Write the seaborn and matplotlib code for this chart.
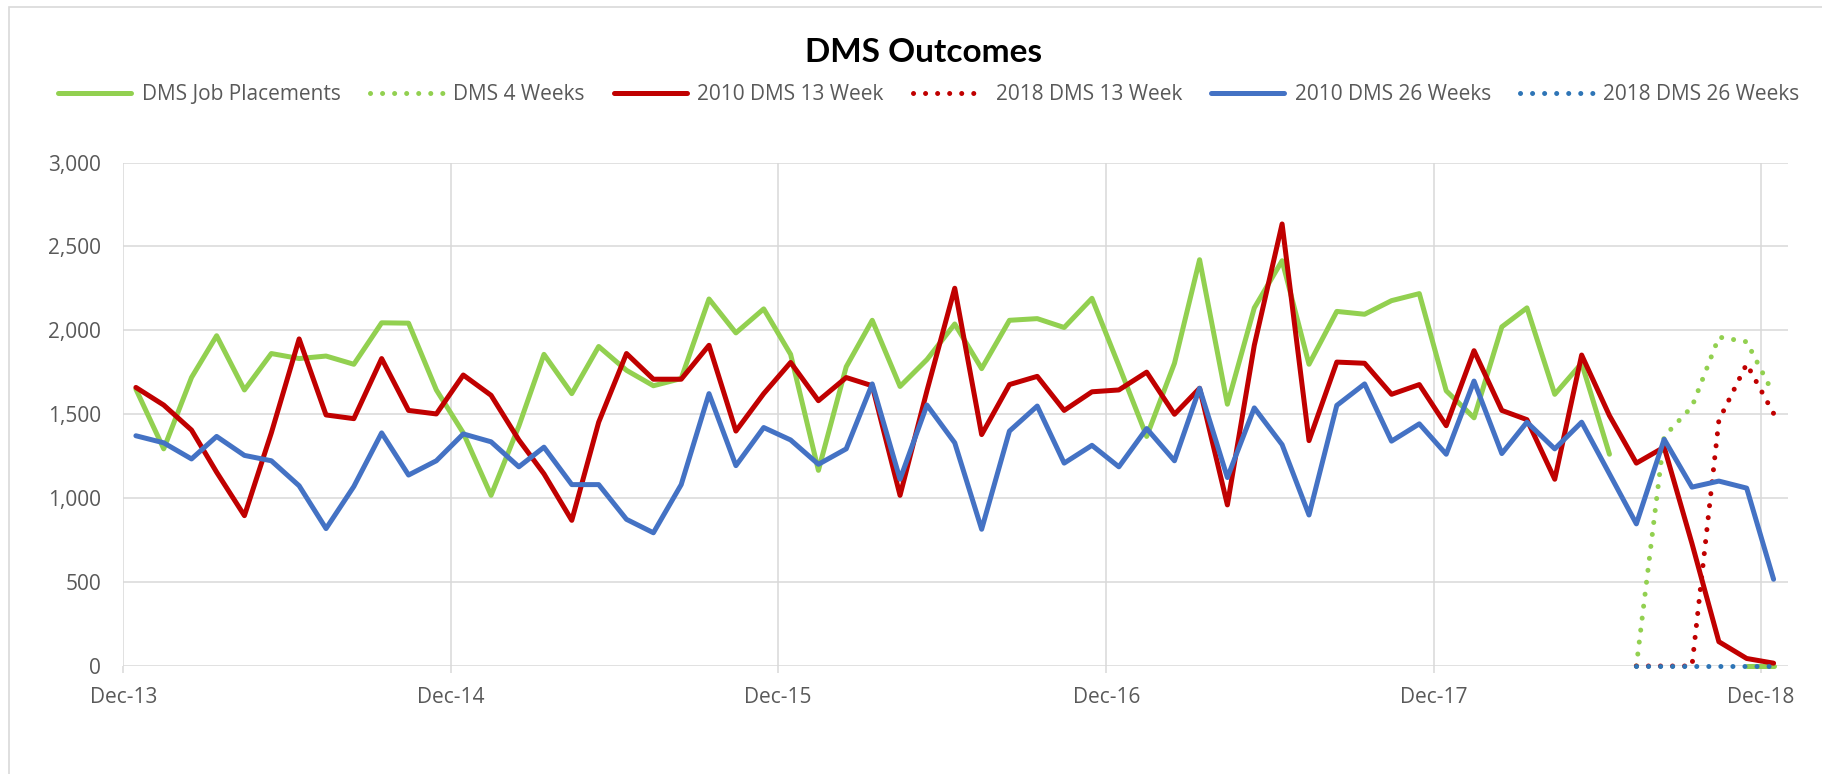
"""
DMS Outcomes - monthly job placements and retention outcomes, Dec-13 to Dec-18
"""
import numpy as np
import pandas as pd
import matplotlib
matplotlib.use("Agg")
import matplotlib.pyplot as plt
import matplotlib.dates as mdates
from matplotlib.patches import Rectangle
import seaborn as sns

nan = np.nan

# one value per month, Dec-13 .. Dec-18 (61 months), plotted mid-month
months = pd.date_range("2013-12-01", periods=61, freq="MS") + pd.Timedelta(days=14)

job_placements = [1650, 1294, 1719, 1968, 1645, 1862, 1832, 1847, 1798, 2045,
                  2043, 1645, 1389, 1017, 1430, 1857, 1623, 1904, 1762, 1670,
                  1713, 2187, 1985, 2128, 1857, 1166, 1783, 2060, 1666, 1826,
                  2038, 1772, 2060, 2070, 2017, 2191, 1790, 1368, 1804, 2421,
                  1560, 2134, 2415, 1798, 2113, 2096, 2177, 2219, 1640, 1479,
                  2021, 2134, 1619, 1804, 1262, nan, nan, nan, nan, 0, 0]

dms_4_weeks = [nan] * 55 + [0, 1368, 1545, 1960, 1932, 1620]

week13_2010 = [1660, 1555, 1406, 1155, 896, 1389, 1949, 1496, 1474, 1832,
               1523, 1502, 1734, 1613, 1347, 1145, 868, 1453, 1862, 1709,
               1709, 1911, 1400, 1623, 1809, 1581, 1719, 1670, 1017, 1640,
               2251, 1379, 1677, 1726, 1523, 1634, 1645, 1751, 1500, 1655,
               960, 1911, 2634, 1343, 1811, 1804, 1619, 1677, 1432, 1879,
               1523, 1468, 1113, 1853, 1492, 1209, 1304, 730, 145, 45, 17]

week13_2018 = [nan] * 55 + [0, 0, 0, 1464, 1800, 1505]

week26_2010 = [1372, 1330, 1234, 1368, 1255, 1223, 1074, 819, 1070, 1389,
               1138, 1223, 1383, 1336, 1187, 1304, 1081, 1081, 874, 794,
               1081, 1623, 1194, 1421, 1347, 1202, 1294, 1681, 1113, 1555,
               1330, 815, 1400, 1549, 1209, 1315, 1187, 1415, 1223, 1655,
               1123, 1538, 1319, 900, 1553, 1681, 1340, 1443, 1262, 1698,
               1266, 1453, 1294, 1453, 1145, 847, 1351, 1066, 1102, 1060, 517]

week26_2018 = [nan] * 55 + [0, 0, 0, 0, 0, 0]

series = [
    ("DMS Job Placements", job_placements, "#92D050", False),
    ("DMS 4 Weeks", dms_4_weeks, "#92D050", True),
    ("2010 DMS 13 Week", week13_2010, "#C00000", False),
    ("2018 DMS 13 Week", week13_2018, "#C00000", True),
    ("2010 DMS 26 Weeks", week26_2010, "#4472C4", False),
    ("2018 DMS 26 Weeks", week26_2018, "#2E75B6", True),
]

tick_dates = pd.date_range("2013-12-01", "2018-12-01", freq="12MS")


def runs(values):
    """Split a series into runs of consecutive non-missing points (Excel leaves gaps)."""
    seg = []
    for i, v in enumerate(values):
        if np.isnan(v):
            if seg:
                yield seg
            seg = []
        else:
            seg.append(i)
    if seg:
        yield seg


sns.set_theme(style="white")
plt.rcParams["font.family"] = ["Open Sans", "DejaVu Sans"]

fig = plt.figure(figsize=(18.22, 7.74), dpi=100)
ax = fig.add_axes([0.0677, 0.1395, 0.9136, 0.6505])

lw = 3.6
for name, values, color, dotted in series:
    vals = np.array(values, dtype=float)
    style = (0, (0.01, 2.4)) if dotted else "-"
    first = True
    for idx in runs(vals):
        # Excel doesn't clip at the plot area, so the zero-line dots stay round
        sns.lineplot(x=months[idx], y=vals[idx], ax=ax, color=color, lw=lw,
                     linestyle=style, dash_capstyle="round",
                     solid_capstyle="round", solid_joinstyle="round",
                     clip_on=False, label=name if first else None, legend=False)
        first = False

ax.set_xlim(pd.Timestamp("2013-12-01"), pd.Timestamp("2018-12-31"))
ax.set_ylim(0, 3000)
ax.set_yticks(np.arange(0, 3001, 500))
ax.yaxis.set_major_formatter(matplotlib.ticker.StrMethodFormatter("{x:,.0f}"))
ax.set_xticks(tick_dates)
ax.xaxis.set_major_formatter(mdates.DateFormatter("%b-%y"))
ax.set_xlabel("")
ax.set_ylabel("")

ax.grid(True, color="#D9D9D9", lw=1.1)
ax.set_axisbelow(True)
for s in ax.spines.values():
    s.set_visible(False)
ax.tick_params(axis="x", length=5, width=1.1, color="#D9D9D9", pad=10,
               labelsize=15, labelcolor="#595959", bottom=True)
ax.tick_params(axis="y", length=0, pad=16, labelsize=15, labelcolor="#595959")

fig.text(924 / 1822, 1 - 52 / 774, "DMS Outcomes", ha="center", va="center",
         fontsize=24, fontweight="bold", family=["Lato", "DejaVu Sans"], color="black")

handles, labels = ax.get_legend_handles_labels()
fig.legend(handles, labels, loc="center", bbox_to_anchor=(929 / 1822, 1 - 95 / 774),
           ncol=6, frameon=False, fontsize=15, labelcolor="#595959",
           handlelength=3.5, handletextpad=0.5, columnspacing=1.4)

# light chart-area border (top and left edge visible in the original)
fig.add_artist(Rectangle((9 / 1822, -0.05), 1.2, 1.05 - 7 / 774, transform=fig.transFigure,
                         fill=False, edgecolor="#D9D9D9", lw=1.2))

fig.savefig("out.png", dpi=100)
